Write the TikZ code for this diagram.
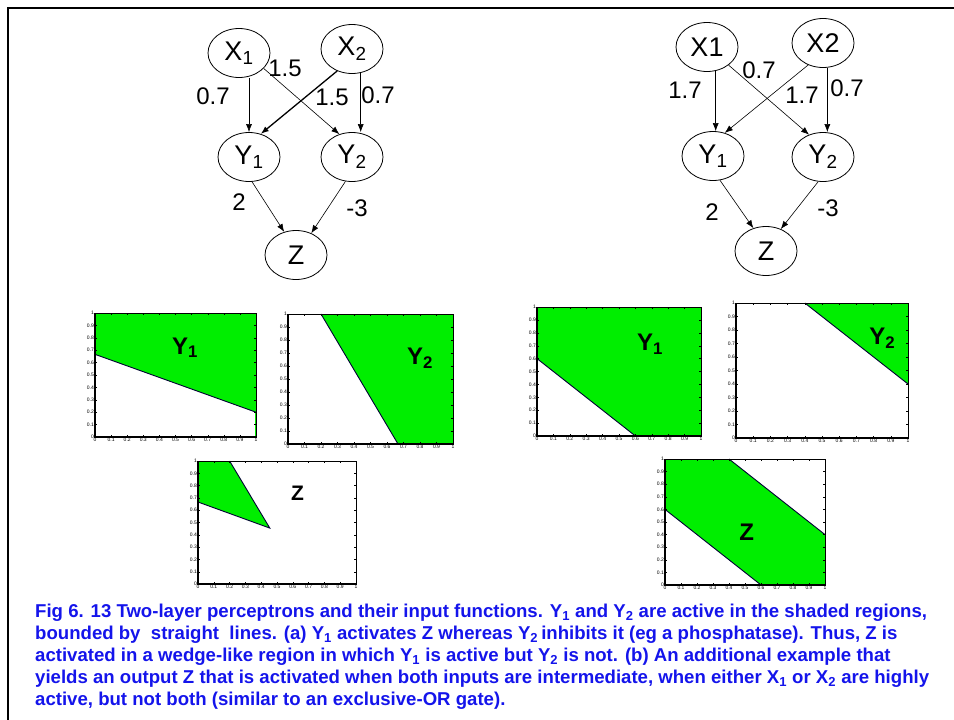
\documentclass[tikz,border=0pt]{standalone}
\usepackage{fontspec}
\setmainfont{Liberation Sans}
\usetikzlibrary{shapes.geometric,arrows.meta}

\definecolor{areagreen}{RGB}{0,238,0}
\definecolor{captblue}{RGB}{20,20,235}

\newcommand{\fsz}[1]{\fontsize{#1}{#1}\selectfont}
\newcommand{\ticktext}[1]{\ifnum#1=0 0\else\ifnum#1=10 1\else 0.#1\fi\fi}
% frame, ticks and tick labels of one unit-square plot
\newcommand{\plotaxes}{%
    \draw[line width=0.8pt] (0,0) rectangle (1,1);
    \draw[line width=1.4pt] (0,1) -- (0,0) -- (1,0);
    \foreach \i in {0,...,10} {
        \draw[tickmark] (\i/10,0) -- ++(0,2pt) (\i/10,1) -- ++(0,-2pt)
                        (0,\i/10) -- ++(2pt,0) (1,\i/10) -- ++(-2pt,0);
        \node[ticklab, below] (xt\i) at (\i/10,0) {\ticktext{\i}};
        \node[ticklab, left]  (yt\i) at (0,\i/10) {\ticktext{\i}};
    }%
}

\begin{document}
\begin{tikzpicture}[x=1pt, y=-1pt,
    unit/.style={ellipse, draw, line width=0.8pt, minimum width=62pt, minimum height=49pt, inner sep=0pt, font=\fsz{27}},
    wlab/.style={inner sep=0pt, font=\fsz{24}},
    arr/.style={-{Latex[length=8pt,width=6pt]}, line width=0.6pt},
    bound/.style={line width=0.9pt, black!80!blue},
    tickmark/.style={line width=0.3pt},
    ticklab/.style={inner sep=1pt, font=\fsz{5}},
    plotlab/.style={inner sep=0pt, font=\fsz{24}\bfseries},
    capline/.style={anchor=base west, inner sep=0pt, text=captblue, font=\fsz{18.6}\bfseries}]
    \useasboundingbox (0,0) rectangle (954,720);
    \draw[line width=2.5pt] (8,720) -- (8,8) -- (954,8);

    % (a) network
    \node [unit]    (aX1)   at (239,53)     {X\textsubscript{1}};
    \node [unit]    (aX2)   at (352,49)     {X\textsubscript{2}};
    \node [unit]    (aY1)   at (249,157)    {Y\textsubscript{1}};
    \node [unit]    (aY2)   at (352,157)    {Y\textsubscript{2}};
    \node [unit]    (aZ)    at (296,255)    {Z};
    \path (aX1.south -| aY1.north)  edge[arr]   (aY1.north);
    \path (aX2.290)                 edge[arr]   (aX2.290 |- aY2.north);
    \path (aX2.236)                 edge[arr, line width=1.3pt] (aY1.63);
    \path (aX1.328)                 edge[arr]   (aY2.119);
    \path (aY1.277)                 edge[arr]   (aZ.117);
    \path (aY2.255)                 edge[arr]   (aZ.55);
    \node [wlab]    (aw1)   at (213,96)     {0.7};
    \node [wlab]    (aw2)   at (285,68)     {1.5};
    \node [wlab]    (aw3)   at (332,97)     {1.5};
    \node [wlab]    (aw4)   at (378,95)     {0.7};
    \node [wlab]    (aw5)   at (239,202)    {2};
    \node [wlab]    (aw6)   at (357,208)    {-3};

    % (b) network
    \node [unit]    (bX1)   at (707,47)     {X1};
    \node [unit]    (bX2)   at (823,43)     {X2};
    \node [unit]    (bY1)   at (713,156)    {Y\textsubscript{1}};
    \node [unit]    (bY2)   at (823,157)    {Y\textsubscript{2}};
    \node [unit]    (bZ)    at (766,251)    {Z};
    \path (bX1.290)                 edge[arr]   (bX1.290 |- bY1.north);
    \path (bX2.280)                 edge[arr]   (bX2.280 |- bY2.north);
    \path (bX2.236)                 edge[arr]   (bY1.63);
    \path (bX1.320)                 edge[arr]   (bY2.122);
    \path (bY1.286)                 edge[arr]   (bZ.119);
    \path (bY2.259)                 edge[arr]   (bZ.56);
    \node [wlab]    (bw1)   at (685,90)     {1.7};
    \node [wlab]    (bw2)   at (759,70)     {0.7};
    \node [wlab]    (bw3)   at (802,95)     {1.7};
    \node [wlab]    (bw4)   at (847,88)     {0.7};
    \node [wlab]    (bw5)   at (712,212)    {2};
    \node [wlab]    (bw6)   at (828,208)    {-3};

    % (a) input functions
    \begin{scope}[shift={(95,437)}, x=161pt, y=124pt]
        \fill[areagreen] (0,2/3) -- (1,0.2) -- (1,1) -- (0,1) -- cycle;
        \draw[areagreen, line width=1.5pt] (1,0) -- (1,0.2);
        \draw[bound] (0,2/3) -- (1,0.2);
        \plotaxes
        \node [plotlab] (paY1) at (0.56,0.72) {Y\textsubscript{1}};
    \end{scope}
    \begin{scope}[shift={(288,444)}, x=165pt, y=130pt]
        \fill[areagreen] (0.2,1) -- (1,1) -- (1,0) -- (2/3,0) -- cycle;
        \draw[bound] (0.2,1) -- (2/3,0);
        \plotaxes
        \node [plotlab] (paY2) at (0.8,0.66) {Y\textsubscript{2}};
    \end{scope}
    \begin{scope}[shift={(198,584)}, x=158pt, y=123pt]
        \fill[areagreen] (0,1) -- (0.2,1) -- (0.4545,0.4545) -- (0,2/3) -- cycle;
        \draw[bound] (0.2,1) -- (0.4545,0.4545) -- (0,2/3);
        \draw[areagreen, line width=1.5pt] (2/3,0) -- (1,0);
        \plotaxes
        \node [plotlab, font=\fsz{21}\bfseries] (paZ) at (0.63,0.74) {Z};
    \end{scope}

    % (b) input functions
    \begin{scope}[shift={(537,436)}, x=164pt, y=129pt]
        \fill[areagreen] (0,0.6) -- (0.6,0) -- (1,0) -- (1,1) -- (0,1) -- cycle;
        \draw[bound] (0,0.6) -- (0.6,0);
        \plotaxes
        \node [plotlab] (pbY1) at (0.69,0.71) {Y\textsubscript{1}};
    \end{scope}
    \begin{scope}[shift={(736,438)}, x=172pt, y=135pt]
        \fill[areagreen] (0.4,1) -- (1,1) -- (1,0.4) -- cycle;
        \draw[bound] (0.4,1) -- (1,0.4);
        \plotaxes
        \node [plotlab] (pbY2) at (0.85,0.74) {Y\textsubscript{2}};
    \end{scope}
    \begin{scope}[shift={(665,585)}, x=160pt, y=126pt]
        \fill[areagreen] (0,0.6) -- (0,1) -- (0.4,1) -- (1,0.4) -- (1,0) -- (0.6,0) -- cycle;
        \draw[bound] (0,0.6) -- (0.6,0) (0.4,1) -- (1,0.4);
        \plotaxes
        \node [plotlab] (pbZ) at (0.51,0.42) {Z};
    \end{scope}

    % caption
    \node [capline] (cap1) at (35,617) {Fig 6. 13 Two-layer perceptrons and their input functions. Y\textsubscript{1} and Y\textsubscript{2} are active in the shaded regions,};
    \node [capline] (cap2) at (35,639) {bounded by\ \ straight\ \ lines. (a) Y\textsubscript{1} activates Z whereas Y\textsubscript{2}\,inhibits it (eg a phosphatase). Thus, Z is};
    \node [capline] (cap3) at (35,661) {activated in a wedge-like region in which Y\textsubscript{1} is active but Y\textsubscript{2} is not. (b) An additional example that};
    \node [capline] (cap4) at (35,683) {yields an output Z that is activated when both inputs are intermediate, when either X\textsubscript{1} or X\textsubscript{2} are highly};
    \node [capline] (cap5) at (35,705) {active, but not both (similar to an exclusive-OR gate).};
\end{tikzpicture}
\end{document}
